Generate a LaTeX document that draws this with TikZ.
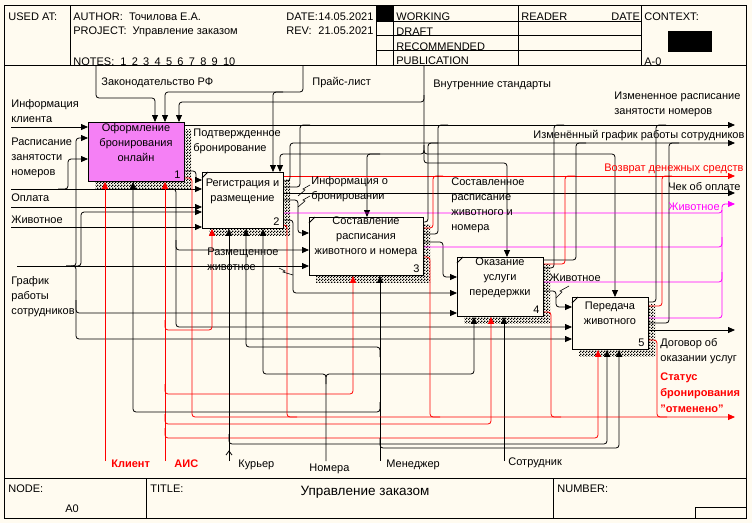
\documentclass[tikz,border=0pt]{standalone}
\usepackage{fontspec}
\setmainfont{Liberation Sans}
\usetikzlibrary{arrows.meta,patterns}
\definecolor{paper}{RGB}{255,251,240}
\definecolor{boxpink}{RGB}{245,128,245}
\definecolor{idred}{RGB}{255,0,0}
\definecolor{idmag}{RGB}{255,0,255}
\newcommand\lblfont{\fontsize{11}{15}\selectfont}
\newcommand\statfont{\fontsize{11}{16}\selectfont\bfseries}
% fine checkered shadow of the activity boxes
\pgfdeclarepatternformonly{idefshadow}{\pgfpointorigin}{\pgfqpoint{3pt}{3pt}}{\pgfqpoint{3pt}{3pt}}{%
  \pgfpathrectangle{\pgfpointorigin}{\pgfqpoint{1.5pt}{1.5pt}}%
  \pgfpathrectangle{\pgfqpoint{1.5pt}{1.5pt}}{\pgfqpoint{1.5pt}{1.5pt}}%
  \pgfusepath{fill}}
\begin{document}
\begin{tikzpicture}[x=1pt,y=-1pt,line width=0.8pt,
  lbl/.style={anchor=north west,inner sep=0pt,align=left,font=\lblfont,execute at begin node=\strut},
  box/.style={draw,anchor=north west,inner sep=0pt,line width=0.9pt},
  btxt/.style={anchor=north,inner sep=0pt,align=center,font=\lblfont,execute at begin node=\strut},
  bnum/.style={anchor=south east,inner sep=0pt,font=\lblfont},
  shadowbox/.style={pattern=idefshadow,pattern color=black},
  ar/.style={draw,rounded corners=3pt,-{Triangle[length=7pt,width=6pt]}},
  ln/.style={draw,rounded corners=3pt},
  squig/.style={draw,line width=0.6pt}]
\useasboundingbox (0,0) rectangle (752,523);
\fill[paper] (0,0) rectangle (752,523);

% ---------- frame, header and footer ----------
\draw[line width=0.9pt] (4.5,5.5) rectangle (746.5,518.5);
\draw (4.5,65) -- (746.5,65);
\foreach \x in {70,376,393,518,641} \draw (\x,5.5) -- (\x,65);
\foreach \y in {21,35,50} \draw (376,\y) -- (641,\y);
\fill (376,5.5) rectangle (393,21);
\fill (668,31) rectangle (712,52);
\draw (4.5,478) -- (746.5,478);
\draw (146,478) -- (146,518.5);
\draw (553,478) -- (553,518.5);
\draw (695,507) rectangle (746.5,518.5);

\node[lbl] (hUsed) at (8,10) {USED AT:};
\node[lbl] (hAuth) at (73,10) {AUTHOR:\ \ Точилова Е.А.};
\node[lbl] (hProj) at (73,24) {PROJECT:\ \ Управление заказом};
\node[lbl] (hNotes) at (73,54.5) {NOTES:\hspace{6pt}1\hspace{5.3pt}2\hspace{5.3pt}3\hspace{5.3pt}4\hspace{5.3pt}5\hspace{5.3pt}6\hspace{5.3pt}7\hspace{5.3pt}8\hspace{5.3pt}9\hspace{5.3pt}10};
\node[lbl] (hDate) at (286,10) {\makebox[32pt][l]{DATE:}14.05.2021};
\node[lbl] (hRev) at (286,24) {\makebox[32pt][l]{REV:}21.05.2021};
\node[lbl] (hWork) at (396,10) {WORKING};
\node[lbl] (hDraft) at (396,24.5) {DRAFT};
\node[lbl] (hRec) at (396,39.5) {RECOMMENDED};
\node[lbl] (hPub) at (396,54) {PUBLICATION};
\node[lbl] (hReader) at (521,10) {READER};
\node[lbl] (hRDate) at (611,10) {DATE};
\node[lbl] (hCtx) at (644,10) {CONTEXT:};
\node[lbl] (hA0) at (644,54.5) {A-0};
\node[lbl] (fNode) at (8,481.5) {NODE:};
\node[lbl] (fA0) at (65,501.5) {A0};
\node[lbl] (fTitle) at (150,481.5) {TITLE:};
\node[anchor=base,inner sep=0pt,font=\fontsize{13.5}{16}\selectfont] (fName) at (365,495) {Управление заказом};
\node[lbl] (fNum) at (557,481.5) {NUMBER:};

% ---------- box shadows ----------
\fill[shadowbox] (95,129) rectangle (191,188);
\fill[shadowbox] (209,179) rectangle (290,235);
\fill[shadowbox] (316,224) rectangle (430,282);
\fill[shadowbox] (464,264) rectangle (550,323);
\fill[shadowbox] (579,304) rectangle (655,356);

% ---------- activity boxes ----------
\node[box,fill=boxpink,minimum width=96pt,minimum height=59pt] (b1) at (88,122) {};
\node[box,fill=paper,minimum width=81pt,minimum height=56pt] (b2) at (202,172) {};
\node[box,fill=paper,minimum width=114pt,minimum height=58pt] (b3) at (309,217) {};
\node[box,fill=paper,minimum width=86pt,minimum height=59pt] (b4) at (457,257) {};
\node[box,fill=paper,minimum width=76pt,minimum height=52pt] (b5) at (572,297) {};
\foreach \b in {b2,b3,b4,b5}
  \draw ([yshift=-6pt]\b.north west) -- ([xshift=6pt]\b.north west);

% ---------- boundary end points ----------
\coordinate (tZak) at (96,65);
\coordinate (tPrice) at (303,65);
\coordinate (tStd) at (424,65);
\coordinate (lInfo) at (11,127);
\coordinate (lRasp) at (11,189);
\coordinate (lOpl) at (11,207);
\coordinate (lZhiv) at (11,227);
\coordinate (lGraf) at (17,266);
\coordinate (bKl) at (105,461);
\coordinate (bAis) at (165,461);
\coordinate (bKur) at (229,461);
\coordinate (bNom) at (326,461);
\coordinate (bMen) at (380,461);
\coordinate (bSot) at (504,461);
\coordinate (rIzmR) at (735,125);
\coordinate (rIzmG) at (735,143);
\coordinate (rVoz) at (735,176);
\coordinate (rChek) at (735,193);
\coordinate (rZhiv) at (735,204);
\coordinate (rDog) at (735,330);
\coordinate (rStat) at (735,417);

% ---------- controls ----------
\draw[ar] (tZak) -- (96,98) -- (155,98) -- (b1.north -| 155,0);
\draw[ar] (tPrice) -- (303,92) -- (165,92) -- (b1.north -| 165,0);
\draw[ar] (283,92) -- (273,92) -- (b2.north -| 273,0);
\draw[ar] (tStd) -- (424,102) -- (179,102) -- (b1.north -| 179,0);
\draw[ar] (424,95) -- (424,154) -- (280,154) -- (b2.north -| 280,0);
\draw[ar] (380,154) -- (367,154) -- (b3.north -| 367,0);
\draw[ar] (424,145) -- (424,154) -- (615,154) -- (b5.north -| 615,0);
\draw[ar] (424,150) -- (424,163) -- (507,163) -- (b4.north -| 507,0);

% ---------- inputs ----------
\draw[ar] (lInfo) -- (b1.west |- lInfo);
\draw[ar] (lRasp) -- (b2.west |- lRasp);
\draw[ar] (58,189) -- (68,189) -- (68,159) -- (b1.west |- 0,159);
\draw[ar] (166,189) -- (176,189) -- (176,250) -- (b3.west |- 0,250);
\draw[ar] (176,240) -- (176,327) -- (b5.west |- 0,327);
\draw[ar] (lOpl) -- (b2.west |- lOpl);
\draw[ar] (lZhiv) -- (b2.west |- lZhiv);
\draw[ar] (lGraf) -- (b3.west |- lGraf);
\draw[ar] (66,266) -- (76,266) -- (76,138) -- (b1.west |- 0,138);
\draw[ar] (71,266) -- (81,266) -- (81,212) -- (b2.west |- 0,212);
\draw[ar] (66,266) -- (76,266) -- (76,313) -- (b4.west |- 0,313);
\draw[ar] (76,300) -- (76,339) -- (b5.west |- 0,339);

% ---------- mechanisms ----------
\draw[ar,idred] (bKl) -- (b1.south -| bKl);
\draw[ar,idred] (bAis) -- (b1.south -| bAis);
\draw[ar,idred] (165,320) -- (165,330) -- (212,330) -- (b2.south -| 212,0);
\draw[ar,idred] (165,384) -- (165,394) -- (353,394) -- (b3.south -| 353,0);
\draw[ar,idred] (165,414) -- (165,424) -- (491,424) -- (b4.south -| 491,0);
\draw[ar,idred] (165,428) -- (165,438) -- (598,438) -- (b5.south -| 598,0);
\draw[ar] (bKur) -- (b2.south -| bKur);
\draw[ar] (229,434) -- (229,444) -- (607,444) -- (b5.south -| 607,0);
\draw (226,455) -- (229,451) -- (232,455);
\draw[ar] (bNom) -- (326,374) -- (263,374) -- (b2.south -| 263,0);
\draw[ar] (326,384) -- (326,374) -- (474,374) -- (b4.south -| 474,0);
\draw[ar] (bMen) -- (b3.south -| bMen);
\draw[ar] (380,357) -- (380,347) -- (246,347) -- (b2.south -| 246,0);
\draw[ar] (380,402) -- (380,412) -- (133,412) -- (b1.south -| 133,0);
\draw[ar] (380,438) -- (380,448) -- (619,448) -- (b5.south -| 619,0);
\draw[ar] (bSot) -- (b4.south -| bSot);

% ---------- outputs of 1 ----------
\draw[ar] (b1.east |- 0,125) -- (rIzmR);
\draw[ar] (b1.east |- 0,171) -- (196,171) -- (196,180) -- (b2.west |- 0,180);
\draw[ar,idred] (b1.east |- 0,178) -- (192,178) -- (192,417) -- (rStat);

% ---------- outputs of 2 ----------
\draw[ar,idred] (b2.east |- 0,176) -- (rVoz);
\draw[ar] (b2.east |- 0,181) -- (290,181) -- (290,143) -- (rIzmG);
\draw[ln] (b2.east |- 0,187) -- (300,187) -- (300,125) -- (310,125);
\draw[ar] (b2.east |- 0,193) -- (rChek);
\draw[ar] (b2.east |- 0,200) -- (298,200) -- (298,233) -- (b3.west |- 0,233);
\draw[ar,idmag] (b2.east |- 0,213) -- (722,213) -- (722,204) -- (rZhiv);
\draw[ar] (b2.east |- 0,220) -- (293,220) -- (293,293) -- (b4.west |- 0,293);
\draw[ln,idred] (b2.east |- 0,225) -- (287,225) -- (287,417) -- (297,417);

% ---------- outputs of 3 ----------
\draw[ln] (b3.east |- 0,222) -- (428,222) -- (428,143) -- (438,143);
\draw[ln,idred] (b3.east |- 0,228) -- (433,228) -- (433,176) -- (443,176);
\draw[ln] (b3.east |- 0,234) -- (438,234) -- (438,125) -- (448,125);
\draw[ar] (b3.east |- 0,242) -- (443,242) -- (443,277) -- (b4.west |- 0,277);
\draw[ln,idmag] (b3.east |- 0,247) -- (722,247) -- (722,237);
\draw[ln,idred] (b3.east |- 0,257) -- (430,257) -- (430,417) -- (440,417);

% ---------- outputs of 4 ----------
\draw[ln] (b4.east |- 0,260) -- (576,260) -- (576,143) -- (586,143);
\draw[ln,idred] (b4.east |- 0,264) -- (565,264) -- (565,176) -- (575,176);
\draw[ln] (b4.east |- 0,268) -- (554,268) -- (554,125) -- (564,125);
\draw[ln,idmag] (b4.east |- 0,282) -- (722,282) -- (722,272);
\draw[ar] (b4.east |- 0,291) -- (556,291) -- (556,307) -- (b5.west |- 0,307);
\draw[ln,idred] (b4.east |- 0,312) -- (551,312) -- (551,417) -- (561,417);

% ---------- outputs of 5 ----------
\draw[ln] (b5.east |- 0,302) -- (656,302) -- (656,125) -- (666,125);
\draw[ln,idred] (b5.east |- 0,306) -- (662,306) -- (662,176) -- (672,176);
\draw[ln,idmag] (b5.east |- 0,318) -- (722,318) -- (722,210);
\draw[ln] (b5.east |- 0,323) -- (669,323) -- (669,143) -- (679,143);
\draw[ar] (b5.east |- 0,330) -- (rDog);
\draw[ln,idred] (b5.east |- 0,340) -- (657,340) -- (657,417) -- (667,417);

% ---------- box texts ----------
\node[btxt] (t1) at (136,123.5) {Оформление\\бронирования\\онлайн};
\node[btxt] (t2) at (242.5,178.5) {Регистрация и\\размещение};
\node[btxt] (t3) at (366,216.5) {Составление\\расписания\\животного и номера};
\node[btxt] (t4) at (500,257.5) {Оказание\\услуги\\передержки};
\node[btxt] (t5) at (610,301.5) {Передача\\животного};
\node[bnum] (n1) at ([xshift=-4pt,yshift=3pt]b1.south east) {1};
\node[bnum] (n2) at ([xshift=-4pt,yshift=3pt]b2.south east) {2};
\node[bnum] (n3) at ([xshift=-4pt,yshift=3pt]b3.south east) {3};
\node[bnum] (n4) at ([xshift=-4pt,yshift=3pt]b4.south east) {4};
\node[bnum] (n5) at ([xshift=-4pt,yshift=3pt]b5.south east) {5};

% ---------- arrow labels ----------
\node[lbl] (lbZak) at (101,74.5) {Законодательство РФ};
\node[lbl] (lbPrice) at (312,74.5) {Прайс-лист};
\node[lbl] (lbStd) at (433,76.5) {Внутренние стандарты};
\node[lbl] (lbIzmR) at (614,91.5) {Измененное расписание\\занятости номеров};
\node[lbl] (lbIzmG) at (533,127.5) {Изменённый график работы сотрудников};
\node[lbl,text=idred] (lbVoz) at (604,160.5) {Возврат денежных средств};
\node[lbl] (lbChek) at (668,179.5) {Чек об оплате};
\node[lbl,text=idmag] (lbZhivO) at (668,199.5) {Животное};
\node[lbl] (lbInfo) at (11,99.5) {Информация\\клиента};
\node[lbl] (lbRasp) at (11,137.5) {Расписание\\занятости\\номеров};
\node[lbl] (lbOpl) at (11,190.5) {Оплата};
\node[lbl] (lbZhivI) at (11,212.5) {Животное};
\node[lbl] (lbPodt) at (193,128.5) {Подтвержденное\\бронирование};
\node[lbl] (lbInfB) at (311,176.5) {Информация о\\бронировании};
\node[lbl] (lbSost) at (451,177.5) {Составленное\\расписание\\животного и\\номера};
\node[lbl] (lbRazm) at (207,247.5) {Размещенное\\животное};
\node[lbl] (lbGraf) at (11,276.5) {График\\работы\\сотрудников};
\node[lbl] (lbZhiv4) at (549,270.5) {Животное};
\node[lbl] (lbDog) at (660,338.5) {Договор об\\оказании услуг};
\node[lbl,text=idred,font=\statfont] (lbStat) at (660,372) {Статус\\бронирования\\"отменено"};
\node[lbl,text=idred,font=\lblfont\bfseries] (lbKl) at (111,456.5) {Клиент};
\node[lbl,text=idred,font=\lblfont\bfseries] (lbAis) at (174,456.5) {АИС};
\node[lbl] (lbKur) at (238,456.5) {Курьер};
\node[lbl] (lbNom) at (309,460.5) {Номера};
\node[lbl] (lbMen) at (386,456.5) {Менеджер};
\node[lbl] (lbSot) at (508,455) {Сотрудник};

% ---------- squiggles tying labels to their arrows ----------
\draw[squig] (298,196) -- (305,190) -- (303,189) -- (310,185);
\draw[squig] (298,207) -- (305,201) -- (303,200) -- (310,196);
\draw[squig] (279,268) -- (285,271) -- (283,272) -- (293,275);
\draw[squig] (556,298) -- (562,292) -- (560,291) -- (569,286);
\end{tikzpicture}
\end{document}
